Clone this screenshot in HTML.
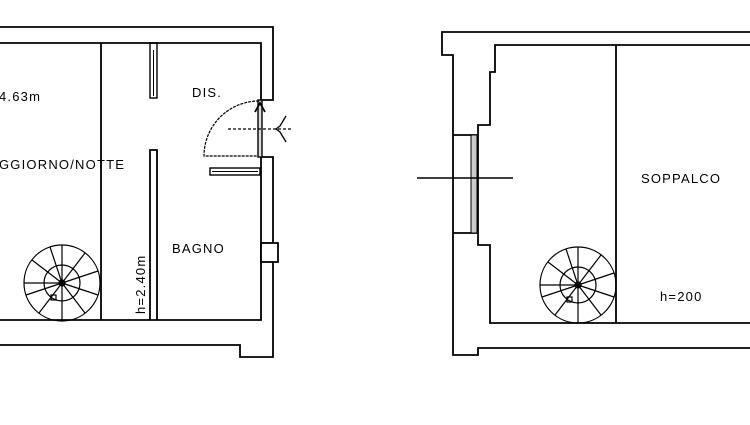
<!DOCTYPE html>
<html><head><meta charset="utf-8"><style>
html,body{margin:0;padding:0;background:#fff;width:750px;height:425px;overflow:hidden}
text{font-family:"Liberation Sans",Arial,sans-serif;font-size:13px;fill:#000;letter-spacing:1.2px}
</style></head><body>
<svg width="750" height="425" viewBox="0 0 750 425" xmlns="http://www.w3.org/2000/svg">
<g stroke="#000" stroke-width="1.8" fill="none">
<polyline points="0,27 273,27 273,100 262,100"/>
<polyline points="0,43 261,43 261,100"/>
<polyline points="262,157 273,157 273,357 240,357 240,345 0,345"/>
<polyline points="261,157 261,320 0,320"/>
<line x1="101" y1="43" x2="101" y2="320"/>
<polyline points="150,320 150,150 157,150 157,320"/>
<rect x="150" y="43" width="7" height="55" stroke-width="1.4"/>
<line x1="153.5" y1="50" x2="153.5" y2="96" stroke-width="1"/>
<rect x="261" y="243" width="17" height="19" fill="#fff"/>
<rect x="258" y="100" width="4" height="57" fill="#ddd" stroke-width="1.4"/>
<path d="M259,101 A55,55 0 0 0 204,156 L258,156" stroke-width="1.2" stroke-dasharray="3,1"/>
<polyline points="255,112 260,103 265,112" stroke-width="1.8"/>
<line x1="228" y1="129" x2="292" y2="129" stroke-width="1.3" stroke-dasharray="3,2"/>
<path d="M286,116 L280,126 L276,129 L280,132 L286,142" stroke-width="1.3"/>
<rect x="210" y="168" width="50" height="7" stroke-width="1.4"/>
<line x1="212" y1="171.5" x2="258" y2="171.5" stroke-width="1"/>
<polyline points="750,32 442,32 442,55 453,55 453,355 478,355 478,348 750,348"/>
<polyline points="750,45 495,45 495,72 490,72 490,125 478,125 478,245 490,245 490,323 750,323"/>
<line x1="616" y1="45" x2="616" y2="323"/>
<line x1="453" y1="135" x2="478" y2="135"/>
<line x1="453" y1="233" x2="478" y2="233"/>
<rect x="471" y="135" width="6" height="98" fill="#ccc" stroke-width="1"/>
<line x1="417" y1="178" x2="513" y2="178" stroke-width="1.4"/>
</g>
<g stroke="#000" stroke-width="1.2" fill="none">
<g transform="translate(62,283)">
<circle r="38"/>
<circle r="18"/>
<line x1="0" y1="0" x2="0" y2="-38"/><line x1="0" y1="0" x2="23" y2="-30"/><line x1="0" y1="0" x2="36" y2="-12"/><line x1="0" y1="0" x2="36" y2="12"/><line x1="0" y1="0" x2="23" y2="30"/><line x1="0" y1="0" x2="0" y2="38"/><line x1="0" y1="0" x2="-23" y2="30"/><line x1="0" y1="0" x2="-38" y2="0"/><line x1="0" y1="0" x2="-30" y2="-23"/><line x1="0" y1="0" x2="-12" y2="-36"/><line x1="0" y1="0" x2="-36" y2="12"/>
<circle r="3" fill="#000"/>
<rect x="-11" y="12" width="5" height="5"/>
</g>
<g transform="translate(578,285)">
<circle r="38"/>
<circle r="18"/>
<line x1="0" y1="0" x2="0" y2="-38"/><line x1="0" y1="0" x2="23" y2="-30"/><line x1="0" y1="0" x2="36" y2="-12"/><line x1="0" y1="0" x2="36" y2="12"/><line x1="0" y1="0" x2="23" y2="30"/><line x1="0" y1="0" x2="0" y2="38"/><line x1="0" y1="0" x2="-23" y2="30"/><line x1="0" y1="0" x2="-38" y2="0"/><line x1="0" y1="0" x2="-30" y2="-23"/><line x1="0" y1="0" x2="-12" y2="-36"/><line x1="0" y1="0" x2="-36" y2="12"/>
<circle r="3" fill="#000"/>
<rect x="-11" y="12" width="5" height="5"/>
</g>
</g>
<text x="-1" y="101">4.63m</text>
<text x="-1" y="169">GGIORNO/NOTTE</text>
<text x="192" y="97">DIS.</text>
<text x="172" y="253">BAGNO</text>
<text transform="translate(145,314) rotate(-90)">h=2.40m</text>
<text x="641" y="183">SOPPALCO</text>
<text x="660" y="301">h=200</text>
</svg>
</body></html>
